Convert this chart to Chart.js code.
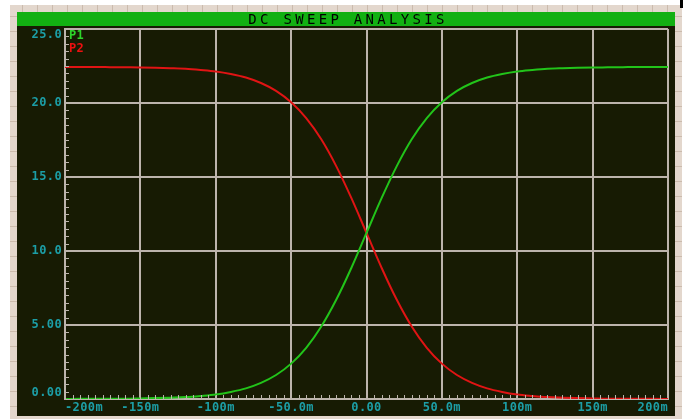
<!DOCTYPE html>
<html>
<head>
<meta charset="utf-8">
<title>DC SWEEP ANALYSIS</title>
<script src="https://cdn.jsdelivr.net/npm/chart.js@4/dist/chart.umd.min.js"></script>
<style>
  html, body { margin: 0; padding: 0; background: #fff; }
  canvas { display: block; }
</style>
</head>
<body>
<canvas id="sweepChart" width="685" height="419"></canvas>
<script>
// sweep voltage in mV
const sweepMv = [-200, -190, -180, -170, -160, -150, -140, -130, -120, -110,
                 -100, -90, -80, -70, -60, -50, -40, -30, -20, -10,
                 0, 10, 20, 30, 40, 50, 60, 70, 80, 90,
                 100, 110, 120, 130, 140, 150, 160, 170, 180, 190, 200];
const p1 = [0.00, 0.01, 0.01, 0.02, 0.02, 0.04, 0.06, 0.09, 0.13, 0.21,
            0.31, 0.48, 0.72, 1.09, 1.62, 2.39, 3.46, 4.90, 6.72, 8.87,
            11.22, 13.57, 15.72, 17.55, 18.98, 20.05, 20.82, 21.35, 21.72, 21.96,
            22.13, 22.23, 22.31, 22.35, 22.38, 22.40, 22.41, 22.42, 22.43, 22.43, 22.44];
const p2 = [22.44, 22.43, 22.43, 22.42, 22.41, 22.40, 22.38, 22.35, 22.31, 22.23,
            22.13, 21.96, 21.72, 21.35, 20.82, 20.05, 18.98, 17.55, 15.72, 13.57,
            11.22, 8.87, 6.72, 4.90, 3.46, 2.39, 1.62, 1.09, 0.72, 0.48,
            0.31, 0.21, 0.13, 0.09, 0.06, 0.04, 0.02, 0.02, 0.01, 0.01, 0.00];

const xTickValues = [-200, -150, -100, -50, 0, 50, 100, 150, 200];
const xTickLabels = ["-200m", "-150m", "-100m", "-50.0m", "0.00", "50.0m", "100m", "150m", "200m"];
const yTickValues = [0, 5, 10, 15, 20, 25];
const yTickLabels = ["0.00", "5.00", "10.0", "15.0", "20.0", "25.0"];
const chartTitle = "DC SWEEP ANALYSIS";

const PANEL = "#171b03";
const GRID = "#bcb4ac";
const LABEL = "#1c9ea6";
const MONO = "'DejaVu Sans Mono', 'Liberation Mono', monospace";

// frame: ruler strips, green title bar, dark panel
const framePlugin = {
    id: "frame",
    beforeDraw(chart) {
        const c = chart.ctx;
        c.save();
        c.fillStyle = "#ffffff";
        c.fillRect(0, 0, 685, 419);
        c.fillStyle = "#e3d7cd";
        c.fillRect(10, 5, 672, 414);
        c.strokeStyle = "#cbbbad";
        c.lineWidth = 1;
        for (let x = 22; x < 680; x += 15) {
            c.beginPath(); c.moveTo(x + 0.5, 5); c.lineTo(x + 0.5, 12); c.stroke();
        }
        for (let y = 16; y < 419; y += 15) {
            c.beginPath(); c.moveTo(10, y + 0.5); c.lineTo(17, y + 0.5); c.stroke();
            c.beginPath(); c.moveTo(675, y + 0.5); c.lineTo(682, y + 0.5); c.stroke();
        }
        c.fillStyle = "#000";
        c.fillRect(680, 0, 3, 8);
        c.fillStyle = "#12b012";
        c.fillRect(17, 12, 658, 14);
        c.fillStyle = PANEL;
        c.fillRect(17, 26, 658, 390);
        c.fillStyle = "#000";
        c.font = "14px " + MONO;
        c.letterSpacing = "3.3px";
        c.textAlign = "center";
        c.textBaseline = "middle";
        c.fillText(chartTitle, 348, 20);
        c.restore();
    },
    afterDraw(chart) {
        const c = chart.ctx;
        const xs = chart.scales.x, ys = chart.scales.y;
        const a = chart.chartArea;
        c.save();
        // minor ticks inside the axes
        c.strokeStyle = GRID;
        c.lineWidth = 1;
        for (let v = 0; v <= 25; v += 0.5) {
            const y = Math.round(ys.getPixelForValue(v)) + 0.5;
            c.beginPath(); c.moveTo(a.left, y); c.lineTo(a.left + 4, y); c.stroke();
        }
        for (let v = -200; v <= 200; v += 5) {
            const x = Math.round(xs.getPixelForValue(v)) + 0.5;
            c.beginPath(); c.moveTo(x, a.bottom); c.lineTo(x, a.bottom - 4); c.stroke();
        }
        // tick labels
        c.font = "bold 12px " + MONO;
        c.letterSpacing = "0.4px";
        c.fillStyle = LABEL;
        c.textBaseline = "middle";
        c.textAlign = "right";
        yTickValues.forEach((v, i) => {
            let y = ys.getPixelForValue(v);
            y = Math.min(Math.max(y, a.top + 6), a.bottom - 6);
            c.fillText(yTickLabels[i], a.left - 3, y);
        });
        xTickValues.forEach((v, i) => {
            const x = xs.getPixelForValue(v);
            if (i === 0) { c.textAlign = "left"; c.fillText(xTickLabels[i], x, a.bottom + 9); }
            else if (i === xTickValues.length - 1) { c.textAlign = "right"; c.fillText(xTickLabels[i], x, a.bottom + 9); }
            else { c.textAlign = "center"; c.fillText(xTickLabels[i], x, a.bottom + 9); }
        });
        // legend in top-left corner of the plot
        c.textAlign = "left";
        chart.data.datasets.forEach((ds, i) => {
            c.fillStyle = ds.legendColor;
            c.fillText(ds.label, a.left + 4, a.top + 7 + i * 13);
        });
        c.restore();
    }
};

const ctx = document.getElementById("sweepChart").getContext("2d");
new Chart(ctx, {
    type: "line",
    data: {
        labels: sweepMv,
        datasets: [{
            label: "P1",
            data: sweepMv.map((x, i) => ({ x: x, y: p1[i] })),
            borderColor: "#22c41a",
            legendColor: "#2ed42a",
            borderWidth: 2,
            pointRadius: 0,
            cubicInterpolationMode: "monotone"
        }, {
            label: "P2",
            data: sweepMv.map((x, i) => ({ x: x, y: p2[i] })),
            borderColor: "#e01414",
            legendColor: "#ee1010",
            borderWidth: 2,
            pointRadius: 0,
            cubicInterpolationMode: "monotone"
        }]
    },
    options: {
        responsive: false,
        animation: false,
        layout: { padding: { top: 29, right: 17, left: 0, bottom: 0 } },
        plugins: {
            legend: { display: false },
            title: { display: false },
            tooltip: { enabled: false }
        },
        scales: {
            x: {
                type: "linear",
                min: -200,
                max: 200,
                ticks: { stepSize: 50, display: false },
                grid: { color: GRID, lineWidth: 2, drawTicks: false },
                border: { display: true, color: GRID, width: 2 },
                afterFit(scale) { scale.height = 20; }
            },
            y: {
                min: 0,
                max: 25,
                ticks: { stepSize: 5, display: false },
                grid: { color: GRID, lineWidth: 2, drawTicks: false },
                border: { display: true, color: GRID, width: 2 },
                afterFit(scale) { scale.width = 65; }
            }
        }
    },
    plugins: [framePlugin]
});
</script>
</body>
</html>
